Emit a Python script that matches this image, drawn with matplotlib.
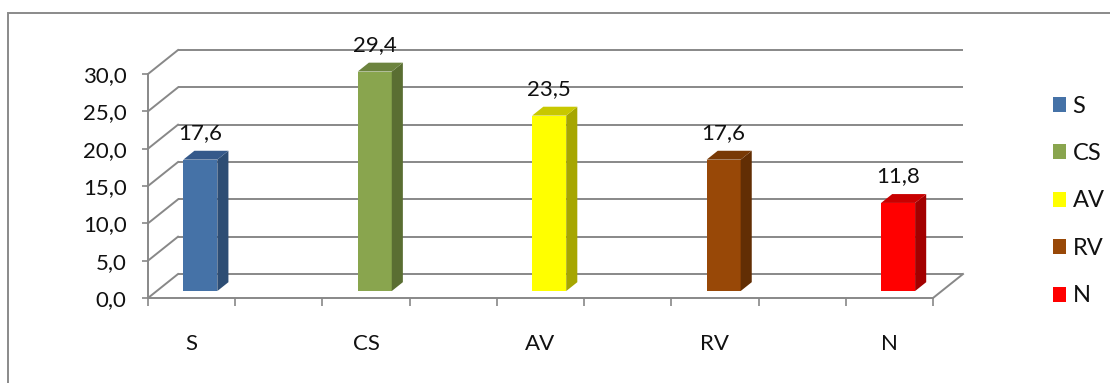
import matplotlib.pyplot as plt
from matplotlib.patches import Polygon, Patch, Rectangle

# data
categories = ["S", "CS", "AV", "RV", "N"]
values = [17.6, 29.4, 23.5, 17.6, 11.8]
value_labels = ["17,6", "29,4", "23,5", "17,6", "11,8"]
yticks = [0, 5, 10, 15, 20, 25, 30]
ytick_labels = ["0,0", "5,0", "10,0", "15,0", "20,0", "25,0", "30,0"]

front_colors = ["#4572A7", "#89A54E", "#FFFF00", "#984807", "#FF0000"]
side_colors = ["#2D4D74", "#5A6E32", "#A6A600", "#622E04", "#A30000"]
top_colors = ["#35598A", "#6C833E", "#C8C800", "#783905", "#C80000"]

plt.rcParams["font.family"] = ["Lato", "DejaVu Sans"]
GRID = "#888888"
TXT = "#111111"

fig = plt.figure(figsize=(11.1, 3.83), dpi=100)
ax = fig.add_axes([148 / 1110, 85 / 383, 785 / 1110, 224 / 383])
nslots = 9
ax.set_xlim(0, nslots)
ax.set_ylim(0, 30)

# pseudo 3d depth offsets (data units)
ddx, ddy = 0.344, 3.21
f0, fd = 0.29, 0.37      # bar depth start / depth
bw = 0.39                # bar front width in slots

# back wall + side wall gridlines
for v in yticks:
    ax.plot([ddx, nslots + ddx], [v + ddy, v + ddy], color=GRID, lw=1.4,
            clip_on=False, zorder=1, solid_capstyle="butt")
    ax.plot([0, ddx], [v, v + ddy], color=GRID, lw=1.4, clip_on=False, zorder=1)
ax.plot([nslots, nslots + ddx], [0, ddy], color=GRID, lw=1.4, clip_on=False, zorder=1)

# bars
for i, (v, lab) in enumerate(zip(values, value_labels)):
    c = 2 * i + 0.5
    x0 = c - bw / 2 + f0 * ddx
    x1 = c + bw / 2 + f0 * ddx
    y0 = f0 * ddy
    y1 = v + f0 * ddy
    ox, oy = fd * ddx, fd * ddy
    front = Polygon([(x0, y0), (x1, y0), (x1, y1), (x0, y1)],
                    closed=True, fc=front_colors[i], ec="none", zorder=3, clip_on=False)
    side = Polygon([(x1, y0), (x1 + ox, y0 + oy), (x1 + ox, y1 + oy), (x1, y1)],
                   closed=True, fc=side_colors[i], ec="none", zorder=3, clip_on=False)
    top = Polygon([(x0, y1), (x1, y1), (x1 + ox, y1 + oy), (x0 + ox, y1 + oy)],
                  closed=True, fc=top_colors[i], ec="none", zorder=3, clip_on=False)
    for p in (front, side, top):
        ax.add_patch(p)
    ax.text((x0 + x1) / 2, y1 + oy + 2.4, lab, ha="center", va="center",
            fontsize=16, color=TXT, zorder=4)

# axes
for s in ("top", "right"):
    ax.spines[s].set_visible(False)
for s in ("left", "bottom"):
    ax.spines[s].set_color(GRID)
    ax.spines[s].set_linewidth(1.4)
    ax.spines[s].set_zorder(2)
ax.set_yticks(yticks)
ax.set_yticklabels(ytick_labels)
ax.tick_params(axis="y", direction="out", length=4.5, width=1.2, color=GRID,
               labelsize=16, pad=11, labelcolor=TXT)
ax.set_xticks([2 * i + 0.5 for i in range(len(categories))])
ax.set_xticklabels(categories)
ax.set_xticks(range(nslots + 1), minor=True)
ax.tick_params(axis="x", which="major", length=0, labelsize=16, pad=26,
               labelcolor=TXT)
ax.tick_params(axis="x", which="minor", direction="out", length=5.5, width=1.2,
               color=GRID)
ax.patch.set_visible(False)

# legend
handles = [Patch(fc=col, ec="none", label=cat) for col, cat in zip(front_colors, categories)]
fig.legend(handles=handles, loc="center left", bbox_to_anchor=(1046 / 1110, 1 - 201 / 383),
           frameon=False, fontsize=17, handlelength=0.55, handleheight=0.6,
           handletextpad=0.28, labelspacing=1.12, borderpad=0.3, borderaxespad=0,
           labelcolor=TXT)

# outer chart border (clipped by the image on the right and bottom)
fig.patches.append(Rectangle((8 / 1110, -0.2), 1.2, 1.2 - 13 / 383,
                             transform=fig.transFigure, fill=False,
                             ec="#8a8a8a", lw=1.4, zorder=0))

fig.savefig("out.png", dpi=100)
